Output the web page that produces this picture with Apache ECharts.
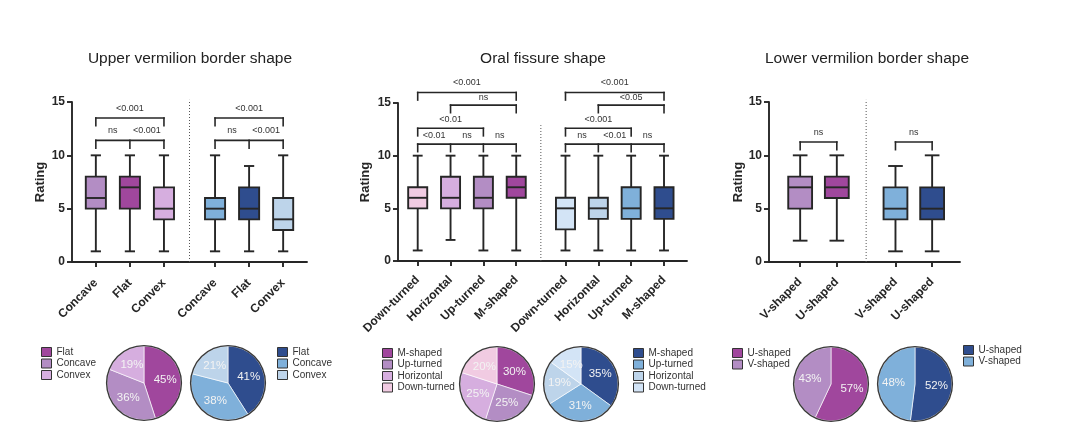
<!DOCTYPE html>
<html><head><meta charset="utf-8">
<script src="https://cdn.jsdelivr.net/npm/echarts@6/dist/echarts.min.js"></script>
<style>html,body{margin:0;padding:0;background:#fff}#c{width:1080px;height:447px}</style>
</head><body><div id="c"></div>
<script>
// ================= DATA =================
const panelTitles = ['Upper vermilion border shape', 'Oral fissure shape', 'Lower vermilion border shape'];
const yTicks = [0, 5, 10, 15];

// box data: [min, Q1, median, Q3, max]
const upperCategories = ['Concave', 'Flat', 'Convex'];
const upperBoxPink = [[1, 5, 6, 8, 10], [1, 5, 7, 8, 10], [1, 4, 5, 7, 10]];
const upperBoxBlue = [[1, 4, 5, 6, 10], [1, 4, 5, 7, 9], [1, 3, 4, 6, 10]];

const fissureCategories = ['Down-turned', 'Horizontal', 'Up-turned', 'M-shaped'];
const fissureBoxPink = [[1, 5, 6, 7, 10], [2, 5, 6, 8, 10], [1, 5, 6, 8, 10], [1, 6, 7, 8, 10]];
const fissureBoxBlue = [[1, 3, 5, 6, 10], [1, 4, 5, 6, 10], [1, 4, 5, 7, 10], [1, 4, 5, 7, 10]];

const lowerCategories = ['V-shaped', 'U-shaped'];
const lowerBoxPink = [[2, 5, 7, 8, 10], [2, 6, 7, 8, 10]];
const lowerBoxBlue = [[1, 4, 5, 7, 9], [1, 4, 5, 7, 10]];

// significance brackets: legs = category indices, y = bracket height (rating units)
const upperBrackets = [{ legs: [0, 2], y: 13.5 }, { legs: [0, 1, 2], y: 11.4 }];
const upperLabelsPink = [[1, 14.35, '<0.001'], [0.5, 12.35, 'ns'], [1.5, 12.35, '<0.001']];
const upperLabelsBlue = [[1, 14.35, '<0.001'], [0.5, 12.35, 'ns'], [1.5, 12.35, '<0.001']];

const fissureBrackets = [{ legs: [0, 3], y: 16 }, { legs: [1, 3], y: 14.8 }, { legs: [0, 2], y: 12.6 }, { legs: [0, 1, 2, 3], y: 11.1 }];
const fissureLabelsPink = [[1.5, 16.95, '<0.001'], [2, 15.5, 'ns'], [1, 13.45, '<0.01'], [0.5, 11.95, '<0.01'], [1.5, 11.95, 'ns'], [2.5, 11.95, 'ns']];
const fissureLabelsBlue = [[1.5, 16.95, '<0.001'], [2, 15.5, '<0.05'], [1, 13.45, '<0.001'], [0.5, 11.95, 'ns'], [1.5, 11.95, '<0.01'], [2.5, 11.95, 'ns']];

const lowerBrackets = [{ legs: [0, 1], y: 11.25 }];
const lowerLabelsPink = [[0.5, 12.1, 'ns']];
const lowerLabelsBlue = [[0.5, 12.1, 'ns']];

// pie shares (%)
const upperPieNames = ['Flat', 'Concave', 'Convex'];
const upperPiePink = [45, 36, 19];
const upperPieBlue = [41, 38, 21];
const fissurePieNames = ['M-shaped', 'Up-turned', 'Horizontal', 'Down-turned'];
const fissurePiePink = [30, 25, 25, 20];
const fissurePieBlue = [35, 31, 19, 15];
const lowerPieNames = ['U-shaped', 'V-shaped'];
const lowerPiePink = [57, 43];
const lowerPieBlue = [52, 48];

// ================= STYLE / LAYOUT =================
const FONT = "'Liberation Sans', Arial, Helvetica, sans-serif";
const INK = '#262626';
const LW = 1.9;
const C = {
  mauve: '#b38dc4', magenta: '#a0479d', lilac: '#d6aedf', lightPink: '#f1cbe2',
  blueMed: '#7fb0da', blueDark: '#2f4d8e', blueLight: '#bdd4ea', blueVeryLight: '#d3e4f6'
};

const panels = [
  {
    cats: upperCategories, boxes: [upperBoxPink, upperBoxBlue],
    boxColors: [[C.mauve, C.magenta, C.lilac], [C.blueMed, C.blueDark, C.blueLight]],
    brackets: [upperBrackets, upperBrackets], labels: [upperLabelsPink, upperLabelsBlue],
    grid: { left: 72, top: 102, width: 235, height: 160 }, xMin: 0.3, xMax: 7.2, gap: 0.5,
    boxW: 0.59, capW: 0.3, dividerTop: 15.2, nameGap: 25, titleX: 190, labelMargin: 19,
    pies: [
      { names: upperPieNames, vals: upperPiePink, colors: [C.magenta, C.mauve, C.lilac], center: [144, 383], legend: [41, 347] },
      { names: upperPieNames, vals: upperPieBlue, colors: [C.blueDark, C.blueMed, C.blueLight], center: [228, 383], legend: [277, 347] }
    ]
  },
  {
    cats: fissureCategories, boxes: [fissureBoxPink, fissureBoxBlue],
    boxColors: [[C.lightPink, C.lilac, C.mauve, C.magenta], [C.blueVeryLight, C.blueLight, C.blueMed, C.blueDark]],
    brackets: [fissureBrackets, fissureBrackets], labels: [fissureLabelsPink, fissureLabelsBlue],
    grid: { left: 398, top: 103, width: 289, height: 158 }, xMin: 0.4, xMax: 9.2, gap: 0.5,
    boxW: 0.58, capW: 0.3, dividerTop: 12.9, nameGap: 26, titleX: 543, labelMargin: 17,
    pies: [
      { names: fissurePieNames, vals: fissurePiePink, colors: [C.magenta, C.mauve, C.lilac, C.lightPink], center: [497, 384], legend: [382, 348] },
      { names: fissurePieNames, vals: fissurePieBlue, colors: [C.blueDark, C.blueMed, C.blueLight, C.blueVeryLight], center: [581, 384], legend: [633, 348] }
    ]
  },
  {
    cats: lowerCategories, boxes: [lowerBoxPink, lowerBoxBlue],
    boxColors: [[C.mauve, C.magenta], [C.blueMed, C.blueDark]],
    brackets: [lowerBrackets, lowerBrackets], labels: [lowerLabelsPink, lowerLabelsBlue],
    grid: { left: 769, top: 102, width: 191, height: 160 }, xMin: 0.15, xMax: 5.36, gap: 0.6,
    boxW: 0.65, capW: 0.4, dividerTop: 15.2, nameGap: 23, titleX: 867, labelMargin: 18,
    pies: [
      { names: lowerPieNames, vals: lowerPiePink, colors: [C.magenta, C.mauve], center: [831, 384], legend: [732, 348] },
      { names: lowerPieNames, vals: lowerPieBlue, colors: [C.blueDark, C.blueMed], center: [915, 384], legend: [963, 345] }
    ]
  }
];
const PIE_R = 37;

function xPos(p, g, i) { return i + 1 + g * (p.cats.length + p.gap); }

const series = [];
const grids = [], xAxes = [], yAxes = [], legends = [], graphics = [];

panels.forEach((p, k) => {
  grids.push({ left: p.grid.left, top: p.grid.top, width: p.grid.width, height: p.grid.height, containLabel: false, outerBoundsMode: 'none' });
  const ticks = [], tickName = {};
  p.boxes.forEach((grp, g) => grp.forEach((_, i) => { const x = xPos(p, g, i); ticks.push(x); tickName[x.toFixed(3)] = p.cats[i]; }));
  xAxes.push({
    type: 'value', gridIndex: k, min: p.xMin, max: p.xMax,
    axisLine: { show: true, onZero: false, lineStyle: { color: INK, width: LW } },
    axisTick: { show: true, customValues: ticks, length: 5, lineStyle: { color: INK, width: LW } },
    axisLabel: { show: true, customValues: ticks, rotate: 45, margin: p.labelMargin, fontSize: 12, fontWeight: 'bold', color: INK, fontFamily: FONT,
      formatter: v => tickName[Number(v).toFixed(3)] || '' },
    splitLine: { show: false }
  });
  yAxes.push({
    type: 'value', gridIndex: k, min: 0, max: 15, interval: 5,
    name: 'Rating', nameLocation: 'middle', nameGap: p.nameGap, nameRotate: 90,
    nameTextStyle: { fontSize: 13, fontWeight: 'bold', color: INK, fontFamily: FONT },
    axisLine: { show: true, onZero: false, lineStyle: { color: INK, width: LW } },
    axisTick: { show: true, length: 5, lineStyle: { color: INK, width: LW } },
    axisLabel: { fontSize: 12, fontWeight: 'bold', color: INK, margin: 7, fontFamily: FONT },
    splitLine: { show: false }
  });

  // boxes
  const boxData = [];
  p.boxes.forEach((grp, g) => grp.forEach((b, i) => boxData.push([xPos(p, g, i), b[0], b[1], b[2], b[3], b[4], g, i])));
  series.push({
    type: 'custom', xAxisIndex: k, yAxisIndex: k, data: boxData, encode: { x: 0, y: [1, 5] }, silent: true, clip: false,
    renderItem: (params, api) => {
      const x = api.value(0);
      const lo = api.coord([x, api.value(1)]), q1 = api.coord([x, api.value(2)]), md = api.coord([x, api.value(3)]),
        q3 = api.coord([x, api.value(4)]), hi = api.coord([x, api.value(5)]);
      const half = api.size([p.boxW, 0])[0] / 2, cap = api.size([p.capW, 0])[0] / 2;
      const color = p.boxColors[api.value(6)][api.value(7)];
      const ls = { stroke: INK, lineWidth: LW };
      return { type: 'group', children: [
        { type: 'line', shape: { x1: lo[0], y1: lo[1], x2: hi[0], y2: hi[1] }, style: ls },
        { type: 'line', shape: { x1: lo[0] - cap, y1: lo[1], x2: lo[0] + cap, y2: lo[1] }, style: ls },
        { type: 'line', shape: { x1: hi[0] - cap, y1: hi[1], x2: hi[0] + cap, y2: hi[1] }, style: ls },
        { type: 'rect', shape: { x: q3[0] - half, y: q3[1], width: half * 2, height: q1[1] - q3[1] }, style: { fill: color, stroke: INK, lineWidth: LW } },
        { type: 'line', shape: { x1: md[0] - half, y1: md[1], x2: md[0] + half, y2: md[1] }, style: ls }
      ] };
    }
  });

  // brackets
  const brData = [], legXs = [];
  p.brackets.forEach((list, g) => list.forEach(b => {
    const xs = b.legs.map(i => xPos(p, g, i));
    legXs.push(xs);
    brData.push([Math.min(...xs), Math.max(...xs), b.y]);
  }));
  series.push({
    type: 'custom', xAxisIndex: k, yAxisIndex: k, data: brData, encode: { x: [0, 1], y: 2 }, silent: true, clip: false,
    renderItem: (params, api) => {
      const y = api.value(2);
      const a = api.coord([api.value(0), y]), b = api.coord([api.value(1), y]);
      const d = api.size([0, 0.72])[1];
      const st = { stroke: INK, lineWidth: 1.6, lineCap: 'square' };
      const ch = [{ type: 'line', shape: { x1: a[0], y1: a[1], x2: b[0], y2: b[1] }, style: st }];
      legXs[params.dataIndex].forEach(lx => {
        const c = api.coord([lx, y]);
        ch.push({ type: 'line', shape: { x1: c[0], y1: c[1], x2: c[0], y2: c[1] + d }, style: st });
      });
      return { type: 'group', children: ch };
    }
  });

  // bracket labels
  const lbData = [], lbText = [];
  p.labels.forEach((list, g) => list.forEach(l => { lbData.push([xPos(p, g, 0) + l[0], l[1]]); lbText.push(l[2]); }));
  series.push({
    type: 'custom', xAxisIndex: k, yAxisIndex: k, data: lbData, encode: { x: 0, y: 1 }, silent: true, clip: false,
    renderItem: (params, api) => {
      const c = api.coord([api.value(0), api.value(1)]);
      return { type: 'text', x: c[0], y: c[1], style: { text: lbText[params.dataIndex], fill: '#333', font: '9px ' + FONT,
        textAlign: 'center', textVerticalAlign: 'middle', align: 'center', verticalAlign: 'middle' } };
    }
  });

  // dotted divider between the two groups
  const n = p.cats.length;
  series.push({
    type: 'custom', xAxisIndex: k, yAxisIndex: k, data: [[(xPos(p, 0, n - 1) + xPos(p, 1, 0)) / 2, p.dividerTop]], encode: { x: 0, y: 1 },
    silent: true, clip: false,
    renderItem: (params, api) => {
      const a = api.coord([api.value(0), 0]), b = api.coord([api.value(0), api.value(1)]);
      return { type: 'line', shape: { x1: a[0], y1: a[1], x2: b[0], y2: b[1] }, style: { stroke: '#555', lineWidth: 1, lineDash: [1, 2] } };
    }
  });

  // title
  graphics.push({ type: 'text', x: p.titleX, y: 59, silent: true,
    style: { text: panelTitles[k], fill: '#222', font: '15.5px ' + FONT, textAlign: 'center', textVerticalAlign: 'middle', align: 'center', verticalAlign: 'middle' } });

  // pies + legends
  p.pies.forEach((pie, j) => {
    const id = k + '_' + j;
    series.push({
      type: 'pie', center: pie.center, radius: PIE_R, startAngle: 90, clockwise: true, silent: true,
      avoidLabelOverlap: false, emphasis: { disabled: true },
      data: pie.names.map((nm, i) => ({ name: nm + '#' + id, value: pie.vals[i], itemStyle: { color: pie.colors[i] } })),
      itemStyle: { borderColor: 'rgba(255,255,255,0.8)', borderWidth: 0.8 },
      label: { show: true, position: 'inside', formatter: d => d.value + '%', color: '#f3f3f3', fontSize: 11.5, fontFamily: FONT },
      labelLine: { show: false }
    });
    series.push({
      type: 'pie', center: pie.center, radius: [PIE_R - 0.3, PIE_R + 1.1], silent: true, emphasis: { disabled: true },
      data: [{ value: 1, name: 'ring' + id, itemStyle: { color: '#3a3a3a' } }], label: { show: false }, labelLine: { show: false }
    });
    legends.push({
      orient: 'vertical', left: pie.legend[0], top: pie.legend[1], padding: 0, itemGap: 1.5, itemWidth: 10, itemHeight: 9,
      icon: 'rect', selectedMode: false, data: pie.names.map(nm => nm + '#' + id), formatter: nm => nm.split('#')[0],
      textStyle: { fontSize: 10, color: '#333', fontFamily: FONT }, itemStyle: { borderColor: '#333', borderWidth: 1 }
    });
  });
});

const chart = echarts.init(document.getElementById('c'), null, { renderer: 'canvas' });
chart.setOption({
  animation: false, backgroundColor: '#fff', textStyle: { fontFamily: FONT },
  grid: grids, xAxis: xAxes, yAxis: yAxes, legend: legends, graphic: graphics, series: series
});
</script></body></html>
